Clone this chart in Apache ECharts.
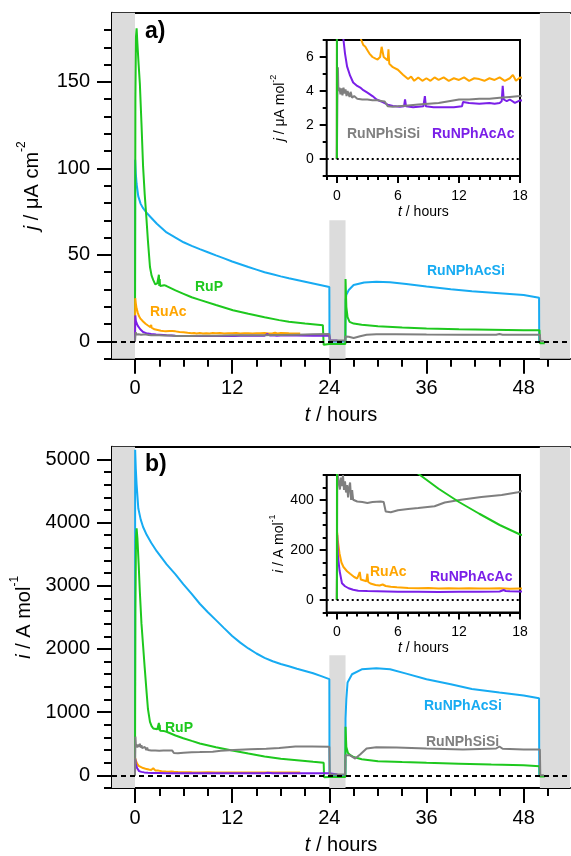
<!DOCTYPE html>
<html><head><meta charset="utf-8">
<script src="https://cdn.jsdelivr.net/npm/echarts@6/dist/echarts.min.js"></script>
<style>html,body{margin:0;padding:0;background:#fff}#c{width:571px;height:856px}</style>
</head><body><div id="c"></div>
<script>
// ---------- tick arrays ----------
const mainXMajor = [0, 12, 24, 36, 48];
const mainXMinor = [0, 3, 6, 9, 12, 15, 18, 21, 24, 27, 30, 33, 36, 39, 42, 45, 48, 51];
const aYMajor = [0, 50, 100, 150];
const aYMinor = [-10, 0, 10, 20, 30, 40, 50, 60, 70, 80, 90, 100, 110, 120, 130, 140, 150, 160, 170, 180];
const bYMajor = [0, 1000, 2000, 3000, 4000, 5000];
const bYMinor = [-200, 0, 200, 400, 600, 800, 1000, 1200, 1400, 1600, 1800, 2000, 2200, 2400, 2600, 2800, 3000, 3200, 3400, 3600, 3800, 4000, 4200, 4400, 4600, 4800, 5000];
const insXMajor = [0, 6, 12, 18];
const insXMinor = [-1, 0, 1, 2, 3, 4, 5, 6, 7, 8, 9, 10, 11, 12, 13, 14, 15, 16, 17, 18];
const insAYMajor = [0, 2, 4, 6];
const insAYMinor = [-1, 0, 1, 2, 3, 4, 5, 6, 7];
const insBYMajor = [0, 200, 400];
const insBYMinor = [-50, 0, 50, 100, 150, 200, 250, 300, 350, 400, 450, 500];

// ---------- panel a data (j / uA cm-2) ----------
const blueA_t = [0, 0.02, 0.1, 0.2, 0.4, 0.7, 1.0, 1.4, 2, 2.7, 3.9, 5, 6, 7, 8, 9, 10, 11, 12, 13, 14, 15, 16, 17, 18, 19, 20, 21, 22, 23, 24, 24.02, 25.98, 26.02, 26.1, 26.4, 27, 28.3, 29.8, 31.5, 33.5, 36, 39, 41.6, 45, 48, 49.9, 49.92];
const blueA_j = [0, 105, 97, 91, 84, 79.5, 77, 74.5, 71.5, 68, 63, 60, 57.3, 55.2, 53.3, 51.5, 49.7, 48, 46.2, 44.6, 43, 41.5, 40, 38.8, 37.6, 36.5, 35.5, 34.5, 33.5, 32.5, 31.5, 0, 0, 24, 27, 29.7, 32.6, 34.1, 34.5, 34.2, 33.2, 31.8, 30.2, 29.0, 27.9, 26.8, 25.2, 0];
const greenA_t = [0, 0.05, 0.12, 0.2, 0.3, 0.45, 0.6, 0.8, 1.0, 1.2, 1.4, 1.6, 1.85, 2.05, 2.26, 2.5, 2.75, 2.9, 2.95, 3.0, 3.05, 3.1, 3.3, 3.6, 3.9, 5, 6, 7, 8, 10, 12.1, 14, 16, 17.8, 19, 21, 23.2, 23.3, 24, 25, 25.98, 26.0, 26.1, 26.25, 26.5, 27, 28, 30, 33, 36, 40, 44, 48, 49.95, 50.0, 50.6];
const greenA_j = [0, 140, 176, 181, 172, 160, 149, 126, 101, 85, 72, 58, 43, 38, 35.4, 33, 33.5, 32.5, 38.5, 32, 36, 32, 33, 32.5, 32, 29.5, 27.5, 25.5, 24, 21, 18, 16, 14, 12.3, 11.3, 10.3, 9.4, -2, -1.5, -1.5, -1.5, 36, 20, 14, 11.3, 10.3, 9.6, 8.8, 8.1, 7.5, 7.0, 6.8, 6.5, 6.5, -1, -1];
const orangeA_t = [0, 0.03, 0.1, 0.2, 0.35, 0.5, 0.7, 1.0, 1.3, 1.6, 1.9, 2.0, 2.05, 2.2, 2.4, 2.6, 2.8, 3.0, 3.2, 3.5, 3.8, 4.0, 4.25, 4.4, 4.6, 4.8, 5.0, 5.07, 5.15, 5.5, 6.0, 6.5, 7.0, 7.3, 7.6, 8.0, 8.4, 8.8, 9.2, 9.6, 10, 10.5, 11, 11.5, 12, 12.5, 13, 13.5, 14, 14.5, 15, 15.5, 16, 16.5, 17, 17.3, 17.6, 18, 19, 20.4];
const orangeA_j = [0, 25, 22, 19, 16.5, 14.5, 13, 11.5, 10.2, 9.2, 8.3, 9.5, 7.9, 7.4, 7.0, 6.7, 6.6, 6.4, 6.2, 6.0, 5.9, 5.85, 6.0, 6.6, 6.0, 5.9, 5.8, 6.45, 5.6, 5.4, 5.25, 4.96, 4.7, 4.85, 4.6, 4.8, 4.6, 4.75, 4.6, 4.8, 4.65, 4.8, 4.6, 4.75, 4.65, 4.8, 4.6, 4.75, 4.7, 4.6, 4.75, 4.65, 4.8, 4.6, 4.75, 4.95, 4.6, 4.8, 4.7, 4.6];
const purpleA_t = [0, 0.03, 0.1, 0.2, 0.35, 0.5, 0.65, 0.8, 1.0, 1.3, 1.6, 2.0, 2.3, 2.6, 3.0, 3.5, 3.9, 4.5, 5.0, 5.5, 6.2, 6.6, 6.7, 6.8, 7.5, 8.5, 8.65, 8.75, 9.5, 10.5, 11.5, 12.3, 12.4, 13, 14, 15, 15.5, 16.0, 16.2, 16.3, 16.4, 16.7, 17, 17.5, 18, 19, 20, 22, 24, 24.1, 25];
const purpleA_j = [0, 15, 12, 10.5, 9, 8, 7, 6.2, 5.45, 4.9, 4.5, 4.3, 4.2, 4.05, 3.9, 3.7, 3.5, 3.35, 3.2, 3.12, 3.07, 3.1, 3.5, 3.1, 3.05, 3.1, 3.7, 3.1, 3.05, 3.05, 3.05, 3.1, 3.35, 3.3, 3.25, 3.3, 3.25, 3.3, 3.4, 4.3, 3.5, 3.4, 3.5, 3.3, 3.45, 3.4, 3.35, 3.3, 3.3, 0.5, 0.5];
const grayA_t = [0, 0.05, 0.1, 0.15, 0.25, 0.35, 0.45, 0.55, 0.65, 0.75, 0.85, 0.95, 1.05, 1.15, 1.25, 1.35, 1.5, 1.7, 2.0, 2.5, 3.0, 3.5, 4.0, 4.5, 4.7, 5.0, 5.5, 6, 7, 8, 9, 10, 11, 12, 13, 14, 15, 16, 17, 18, 20, 22, 24, 24.05, 25.95, 26.0, 26.4, 27.0, 27.8, 28.6, 29.8, 32.3, 36, 40.5, 44.6, 45, 45.4, 48, 50, 50.05, 50.5];
const grayA_j = [0, 3.5, 5.4, 4.0, 4.2, 3.8, 4.15, 3.75, 4.2, 3.85, 4.1, 3.7, 4.0, 3.8, 3.65, 3.95, 3.6, 3.7, 3.55, 3.5, 3.5, 3.45, 3.45, 3.4, 3.38, 3.1, 3.08, 3.1, 3.15, 3.2, 3.25, 3.3, 3.4, 3.5, 3.5, 3.55, 3.55, 3.6, 3.65, 3.7, 3.9, 4.1, 4.3, 0.5, 0.5, 2.8, 2.7, 2.0, 3.0, 3.9, 4.2, 4.1, 4.0, 3.9, 3.9, 4.3, 3.9, 3.9, 3.9, 0.3, 0.3];

// ---------- panel b data (i / A mol-1) ----------
const blueB_t = [0, 0.02, 0.1, 0.2, 0.41, 0.7, 1.0, 1.44, 2, 2.68, 3.91, 5, 5.96, 7, 8, 9, 10, 11, 12, 13, 14, 15, 16, 17, 18, 19, 20, 21, 22, 23, 24, 24.02, 25.98, 26.0, 26.1, 26.25, 26.8, 28, 29.8, 31.5, 33.5, 36, 39, 41.6, 45, 48, 49.9, 49.92];
const blueB_i = [0, 5150, 4850, 4600, 4221, 4050, 3930, 3805, 3680, 3547, 3338, 3180, 3027, 2870, 2715, 2580, 2456, 2330, 2205, 2100, 2008, 1928, 1860, 1806, 1762, 1725, 1688, 1652, 1616, 1570, 1522, 0, 0, 900, 1210, 1470, 1600, 1678, 1693, 1678, 1610, 1522, 1440, 1366, 1310, 1262, 1220, 0];
const greenB_t = [0, 0.05, 0.12, 0.2, 0.3, 0.45, 0.6, 0.8, 1.0, 1.2, 1.44, 1.6, 1.85, 2.05, 2.26, 2.5, 2.75, 2.9, 2.95, 3.0, 3.05, 3.1, 3.3, 3.6, 3.9, 5, 5.96, 7, 8, 10, 12, 14, 16, 18, 20, 22, 23.3, 23.35, 24, 25, 25.98, 26.0, 26.1, 26.3, 26.6, 27, 28, 30, 33, 36, 40, 44, 48, 49.95, 50.0, 50.6];
const greenB_i = [0, 2600, 3750, 3910, 3750, 3350, 2900, 2400, 2050, 1700, 1300, 1050, 846, 780, 742, 725, 728, 712, 830, 715, 800, 705, 705, 700, 690, 630, 587, 545, 505, 445, 392, 345, 300, 262, 240, 215, 200, -30, -25, -25, -25, 768, 450, 353, 320, 290, 255, 223, 210, 198, 185, 172, 160, 145, -20, -20];
const orangeB_t = [0, 0.03, 0.1, 0.26, 0.45, 0.65, 1.0, 1.3, 1.7, 2.0, 2.15, 2.25, 2.35, 2.5, 2.9, 3.0, 3.08, 3.3, 3.8, 4.2, 4.5, 4.8, 5.3, 5.9, 7, 8, 9, 10, 11, 12, 13, 14, 15, 16, 17, 18, 19, 20.4];
const orangeB_i = [0, 270, 235, 186, 150, 132, 115, 105, 92, 86, 84, 112, 82, 78, 75, 105, 72, 66, 60, 58, 62, 56, 53, 51, 48, 47, 48, 46, 47, 46, 47, 46, 46, 47, 45, 46, 45, 45];
const purpleB_t = [0, 0.03, 0.1, 0.26, 0.5, 0.8, 1.15, 1.6, 2.1, 3, 4, 5, 6, 8, 10, 12, 14, 16, 16.4, 16.6, 17, 18, 20, 22, 24, 24.1, 25];
const purpleB_i = [0, 260, 180, 118, 67, 55, 47, 41, 37, 36, 35, 34, 33, 33, 32, 33, 33, 34, 40, 36, 35, 34, 34, 33, 33, 15, 15];
const grayB_t = [0, 0.05, 0.1, 0.2, 0.3, 0.4, 0.5, 0.6, 0.7, 0.8, 0.9, 1.0, 1.1, 1.2, 1.3, 1.4, 1.5, 1.6, 2.0, 2.5, 3.0, 3.5, 4.3, 4.6, 4.8, 5.3, 6, 7, 8, 9.6, 10.6, 12.2, 14.2, 16.2, 17.8, 19.8, 21.9, 24, 24.05, 25.95, 26.0, 26.5, 27.2, 27.8, 28.6, 29.8, 32.3, 36, 40.5, 44.6, 45, 45.4, 48, 50, 50.05, 50.5];
const grayB_i = [0, 612, 495, 470, 442, 490, 455, 500, 440, 475, 430, 460, 410, 450, 470, 400, 440, 401, 394, 392, 388, 392, 394, 392, 354, 351, 359, 364, 368, 375, 390, 401, 412, 420, 431, 457, 457, 452, 12, 12, 319, 319, 266, 330, 426, 446, 440, 425, 410, 425, 457, 420, 410, 410, 0, 0];

// ---------- styling ----------
const FONT = 'Liberation Sans, Arial, sans-serif';
const C = {blue: '#17abf2', green: '#1ec81e', orange: '#ffa500', purple: '#7a1fe8', gray: '#7f7f7f', band: '#dcdcdc'};
const zip = (t, v) => t.map((x, i) => [x, v[i]]);
const fmt = v => String(v);

const X_MIN = -2.84, X_MAX = 53.72;

function xMain(grid, name) {
  return [
    {gridIndex: grid, type: 'value', min: X_MIN, max: X_MAX, position: 'bottom',
     axisLine: {show: true, onZero: false, lineStyle: {color: '#000', width: 2}},
     axisTick: {show: true, customValues: mainXMajor, length: 15, lineStyle: {color: '#000', width: 2}},
     axisLabel: {show: true, customValues: mainXMajor, formatter: fmt, margin: 20, fontSize: 20, fontFamily: FONT, color: '#000'},
     splitLine: {show: false},
     name: name, nameLocation: 'middle', nameGap: 47,
     nameTextStyle: {fontSize: 20, fontFamily: FONT, color: '#000', rich: {it: {fontStyle: 'italic', fontSize: 20, fontFamily: FONT}, n: {fontSize: 20, fontFamily: FONT}}}},
    {gridIndex: grid, type: 'value', min: X_MIN, max: X_MAX, position: 'bottom',
     axisLine: {show: false, onZero: false},
     axisTick: {show: true, customValues: mainXMinor, length: 8, lineStyle: {color: '#000', width: 2}},
     axisLabel: {show: false}, splitLine: {show: false}},
    {gridIndex: grid, type: 'value', min: X_MIN, max: X_MAX, position: 'top',
     axisLine: {show: true, onZero: false, lineStyle: {color: '#000', width: 2}},
     axisTick: {show: false}, axisLabel: {show: false}, splitLine: {show: false}}
  ];
}
function xInset(grid) {
  return [
    {gridIndex: grid, type: 'value', min: -1, max: 18, position: 'bottom',
     axisLine: {show: true, onZero: false, lineStyle: {color: '#000', width: 2}},
     axisTick: {show: true, customValues: insXMajor, length: 7, lineStyle: {color: '#000', width: 2}},
     axisLabel: {show: true, customValues: insXMajor, formatter: fmt, margin: 13, fontSize: 14, fontFamily: FONT, color: '#000'},
     splitLine: {show: false},
     name: '{it|t}{n| / hours}', nameLocation: 'middle', nameGap: 29,
     nameTextStyle: {fontSize: 14, fontFamily: FONT, color: '#000', rich: {it: {fontStyle: 'italic', fontSize: 14, fontFamily: FONT}, n: {fontSize: 14, fontFamily: FONT}}}},
    {gridIndex: grid, type: 'value', min: -1, max: 18, position: 'bottom',
     axisLine: {show: false, onZero: false},
     axisTick: {show: true, customValues: insXMinor, length: 4, lineStyle: {color: '#000', width: 2}},
     axisLabel: {show: false}, splitLine: {show: false}}
  ];
}
function yAxisPair(grid, min, max, major, minor, majLen, minLen, fs, margin, name, gap, baseFs, supFs, lh) {
  return [
    {gridIndex: grid, type: 'value', min: min, max: max, position: 'left',
     axisLine: {show: true, onZero: false, lineStyle: {color: '#000', width: 2}},
     axisTick: {show: true, customValues: major, length: majLen, lineStyle: {color: '#000', width: 2}},
     axisLabel: {show: true, customValues: major, formatter: fmt, margin: margin, fontSize: fs, fontFamily: FONT, color: '#000'},
     splitLine: {show: false},
     name: name, nameLocation: 'middle', nameGap: gap, nameRotate: 90,
     nameTextStyle: {fontSize: baseFs, fontFamily: FONT, color: '#000', rich: {
       it: {fontStyle: 'italic', fontSize: baseFs, fontFamily: FONT, lineHeight: lh},
       n: {fontSize: baseFs, fontFamily: FONT, lineHeight: lh},
       sup: {fontSize: supFs, fontFamily: FONT, lineHeight: supFs, verticalAlign: 'top'}}}},
    {gridIndex: grid, type: 'value', min: min, max: max, position: 'left',
     axisLine: {show: false, onZero: false},
     axisTick: {show: true, customValues: minor, length: minLen, lineStyle: {color: '#000', width: 2}},
     axisLabel: {show: false}, splitLine: {show: false}}
  ];
}

const xAxes = [].concat(
  xMain(0, '{it|t}{n| / hours}'),   // 0,1,2
  xInset(1),                         // 3,4
  xMain(2, '{it|t}{n| / hours}'),   // 5,6,7
  xInset(3)                          // 8,9
);
const yAxes = [].concat(
  yAxisPair(0, -10, 190, aYMajor, aYMinor, 15, 8, 20, 22, '{it|j}{n| / μA cm}{sup|-2}', 64, 20, 12, 32),      // 0,1
  yAxisPair(1, -1, 7, insAYMajor, insAYMinor, 7, 4, 14, 13, '{it|j}{n| / μA mol}{sup|-2}', 36, 14, 9, 22),    // 2,3
  yAxisPair(2, -200, 5200, bYMajor, bYMinor, 15, 8, 20, 22, '{it|i}{n| / A mol}{sup|-1}', 64, 20, 12, 32),      // 4,5
  yAxisPair(3, -50, 500, insBYMajor, insBYMinor, 7, 4, 14, 13, '{it|i}{n| / A mol}{sup|-1}', 36, 14, 9, 22)     // 6,7
);

function line(data, color, xi, yi, name) {
  return {type: 'line', name: name, data: data, xAxisIndex: xi, yAxisIndex: yi, symbol: 'none', showSymbol: false,
          lineStyle: {color: color, width: 2}, itemStyle: {color: color}, z: 3, silent: true, clip: true, animation: false};
}
function bands(xi, yi, yMin, midTop) {
  return {type: 'line', data: [], xAxisIndex: xi, yAxisIndex: yi, z: 1, silent: true,
    markArea: {silent: true, itemStyle: {color: C.band}, data: [
      [{xAxis: X_MIN}, {xAxis: 0}],
      [{xAxis: 24, yAxis: yMin}, {xAxis: 26, yAxis: midTop}],
      [{xAxis: 50}, {xAxis: X_MAX}]
    ]}};
}
function zeroLine(xi, yi, dash) {
  return {type: 'line', data: [], xAxisIndex: xi, yAxisIndex: yi, z: 2, silent: true,
    markLine: {silent: true, symbol: ['none', 'none'], label: {show: false},
      lineStyle: {color: '#000', width: 2, type: dash}, data: [{yAxis: 0}]}};
}

const series = [
  bands(0, 0, -10, 70), zeroLine(0, 0, [5, 4]),
  line(zip(blueA_t, blueA_j), C.blue, 0, 0, 'RuNPhAcSi'),
  line(zip(greenA_t, greenA_j), C.green, 0, 0, 'RuP'),
  line(zip(orangeA_t, orangeA_j), C.orange, 0, 0, 'RuAc'),
  line(zip(purpleA_t, purpleA_j), C.purple, 0, 0, 'RuNPhAcAc'),
  line(zip(grayA_t, grayA_j), C.gray, 0, 0, 'RuNPhSiSi'),
  zeroLine(3, 2, [2, 3]),
  line(zip(orangeA_t, orangeA_j), C.orange, 3, 2, 'RuAc'),
  line(zip(purpleA_t, purpleA_j), C.purple, 3, 2, 'RuNPhAcAc'),
  line(zip(grayA_t, grayA_j), C.gray, 3, 2, 'RuNPhSiSi'),
  line(zip(greenA_t, greenA_j), C.green, 3, 2, 'RuP'),

  bands(5, 4, -200, 1900), zeroLine(5, 4, [5, 4]),
  line(zip(blueB_t, blueB_i), C.blue, 5, 4, 'RuNPhAcSi'),
  line(zip(greenB_t, greenB_i), C.green, 5, 4, 'RuP'),
  line(zip(orangeB_t, orangeB_i), C.orange, 5, 4, 'RuAc'),
  line(zip(purpleB_t, purpleB_i), C.purple, 5, 4, 'RuNPhAcAc'),
  line(zip(grayB_t, grayB_i), C.gray, 5, 4, 'RuNPhSiSi'),
  zeroLine(8, 6, [2, 3]),
  line(zip(orangeB_t, orangeB_i), C.orange, 8, 6, 'RuAc'),
  line(zip(purpleB_t, purpleB_i), C.purple, 8, 6, 'RuNPhAcAc'),
  line(zip(grayB_t, grayB_i), C.gray, 8, 6, 'RuNPhSiSi'),
  line(zip(greenB_t, greenB_i), C.green, 8, 6, 'RuP')
];

function lbl(x, y, text, color, size) {
  return {type: 'text', x: x, y: y, z: 100, silent: true,
    style: {text: text, fill: color, font: 'bold ' + size + 'px ' + FONT, align: 'left', verticalAlign: 'middle'}};
}

const option = {
  animation: false,
  backgroundColor: '#fff',
  grid: [
    {left: 112, top: 12.7, width: 458, height: 346, show: false},
    {left: 326.7, top: 40, width: 193.3, height: 136, show: true, backgroundColor: '#fff', borderColor: '#000', borderWidth: 2, z: 2},
    {left: 112, top: 446.7, width: 458, height: 347.3, show: false},
    {left: 326.7, top: 475, width: 193.3, height: 137.5, show: true, backgroundColor: '#fff', borderColor: '#000', borderWidth: 2, z: 2}
  ],
  xAxis: xAxes,
  yAxis: yAxes,
  series: series,
  graphic: [
    lbl(145, 32, 'a)', '#000', 23),
    lbl(195, 287, 'RuP', C.green, 14),
    lbl(150, 312, 'RuAc', C.orange, 14),
    lbl(427, 271, 'RuNPhAcSi', C.blue, 14),
    lbl(347, 134, 'RuNPhSiSi', C.gray, 14),
    lbl(432, 134, 'RuNPhAcAc', C.purple, 14),
    lbl(145, 465, 'b)', '#000', 23),
    lbl(165, 728, 'RuP', C.green, 14),
    lbl(424, 706, 'RuNPhAcSi', C.blue, 14),
    lbl(426, 742, 'RuNPhSiSi', C.gray, 14),
    lbl(370, 572, 'RuAc', C.orange, 14),
    lbl(430, 577, 'RuNPhAcAc', C.purple, 14)
  ]
};
const chart = echarts.init(document.getElementById('c'), null, {renderer: 'canvas'});
chart.setOption(option);
</script></body></html>
